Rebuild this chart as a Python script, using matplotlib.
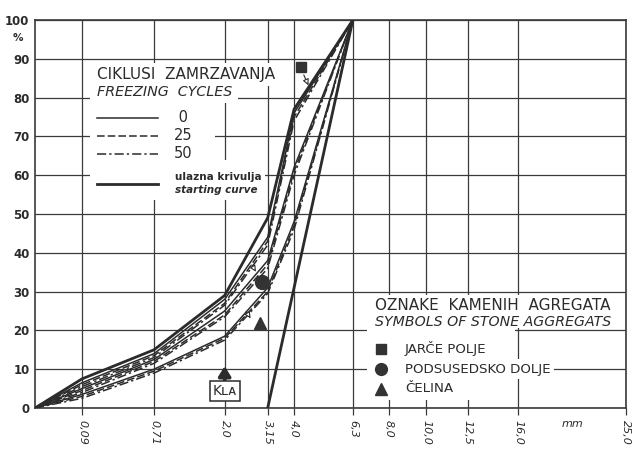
import numpy as np
import matplotlib
matplotlib.use("Agg")
import matplotlib.pyplot as plt
from matplotlib.patches import Rectangle
from matplotlib.lines import Line2D

# ---------------- data ----------------
sizes = [0, 0.09, 0.71, 2.0, 3.15, 4.0, 6.3]
tick_sizes = [0.09, 0.71, 2.0, 3.15, 4.0, 6.3, 8.0, 10.0, 12.5, 16.0, 25.0]
tick_labels = ["0,09", "0,71", "2,0", "3,15", "4,0", "6,3", "8,0", "10,0", "12,5", "16,0", "25,0"]
y_ticks = [0, 10, 20, 30, 40, 50, 60, 70, 80, 90, 100]

starting_curve = [0, 7.5, 15, 29, 49, 77, 100]
jarce_0 = [0, 6.5, 14, 28, 44, 76, 100]
jarce_25 = [0, 6, 13.5, 27, 43, 75, 100]
jarce_50 = [0, 5.5, 13, 26.5, 42, 74, 100]
podsused_0 = [0, 5, 12.5, 25, 38, 62, 100]
podsused_25 = [0, 4.5, 12, 24, 37, 61, 100]
podsused_50 = [0, 4, 11.5, 23.5, 36, 60, 100]
celina_0 = [0, 3.5, 10, 18.5, 31, 48, 100]
celina_25 = [0, 3, 9.5, 18, 30, 47, 100]
celina_50 = [0, 2.5, 9, 17.5, 29.5, 46, 100]

limit_sizes = [3.15, 6.3]
limit_values = [0, 100]

marker_square = (4.24, 88)
marker_circle = (2.97, 32.5)
marker_triangle = (2.91, 22)

# ---------------- figure ----------------
W, H = 634, 453
fig = plt.figure(figsize=(W / 100, H / 100), dpi=100)
L, R, T, B = 35, 626, 20, 408
ax = fig.add_axes([L / W, 1 - B / H, (R - L) / W, (B - T) / H])

P = 0.45
fwd = lambda x: np.sign(x) * np.abs(x) ** P
inv = lambda x: np.sign(x) * np.abs(x) ** (1 / P)
ax.set_xscale("function", functions=(fwd, inv))
ax.set_xlim(0, 25)
ax.set_ylim(0, 100)

ink = "#2b2b2b"
grid_c = "#3a3a3a"

ax.set_xticks(tick_sizes)
ax.set_xticklabels(tick_labels, rotation=-90, fontstyle="italic", fontsize=8, color=ink,
                   va="top", ha="center")
ax.set_yticks(y_ticks)
ax.set_yticklabels([str(v) for v in y_ticks], fontsize=8.5, fontweight="bold", color=ink)
ax.tick_params(axis="x", direction="out", length=5, width=0.9, color=grid_c, pad=4)
ax.tick_params(axis="y", length=0, pad=4)
ax.set_axisbelow(True)
ax.grid(True, color=grid_c, lw=0.9)
for s in ax.spines.values():
    s.set_color(grid_c)
    s.set_linewidth(1.2)

def fx(x):
    return x / W

def fy(y):
    return 1 - y / H

def white_rect(x0, y0, x1, y1):
    ax.add_patch(Rectangle((fx(x0), fy(y1)), fx(x1) - fx(x0), fy(y0) - fy(y1),
                           transform=fig.transFigure, fc="white", ec="none",
                           zorder=1, clip_on=False))

# white areas behind legends
white_rect(90, 63, 292, 86)
white_rect(90, 86, 238, 103)
white_rect(90, 103, 215, 160)
white_rect(90, 160, 265, 200)
white_rect(367, 295, 622, 328)
white_rect(367, 328, 515, 400)

# ---------------- curves ----------------
ls25 = (0, (5, 2))
ls50 = (0, (6, 2, 1.5, 2))
lw = 1.1
for data, ls in [(jarce_0, "-"), (jarce_25, ls25), (jarce_50, ls50),
                 (podsused_0, "-"), (podsused_25, ls25), (podsused_50, ls50),
                 (celina_0, "-"), (celina_25, ls25), (celina_50, ls50)]:
    ax.plot(sizes, data, color=ink, lw=lw, ls=ls, zorder=3)
ax.plot(sizes, starting_curve, color=ink, lw=2.0, zorder=3)
ax.plot(limit_sizes, limit_values, color=ink, lw=2.0, zorder=3)

# markers
ax.plot(*marker_square, marker="s", ms=7, color="#333333", zorder=4)
ax.plot(*marker_circle, marker="o", ms=10, color="#333333", zorder=4)
ax.plot(*marker_triangle, marker="^", ms=8, color="#333333", zorder=4)

# small hollow arrows pointing to curves
for (xt, yt), (xs, ys) in [((4.55, 82.5), (4.3, 86.5)),
                           ((2.85, 34.5), (2.65, 37.5)),
                           ((2.7, 22.5), (2.5, 25.5))]:
    ax.annotate("", xy=(xt, yt), xytext=(xs, ys),
                arrowprops=dict(arrowstyle="-|>", fc="white", ec=ink, lw=0.8,
                                mutation_scale=9), zorder=4)

# K_LA box with arrow
ax.annotate("", xy=(2.0, 10.8), xytext=(2.0, 6.3),
            arrowprops=dict(arrowstyle="-|>,head_width=0.26,head_length=0.42",
                            fc=ink, ec=ink, lw=2.6, mutation_scale=14,
                            shrinkA=0, shrinkB=0), zorder=4)
ax.text(2.0, 4.4, "Kʟᴀ", ha="center", va="center", fontsize=10, color=ink, zorder=5,
        bbox=dict(boxstyle="square,pad=0.2", fc="white", ec=ink, lw=1.1))

# ---------------- texts ----------------
def ftext(x, y, s, **kw):
    kw.setdefault("color", ink)
    ax.text(fx(x), fy(y), s, transform=fig.transFigure, zorder=5, **kw)

ftext(18, 38, "%", fontsize=7.5, fontweight="bold", ha="center", va="center")
ftext(572, 424, "mm", fontsize=8, fontstyle="italic", ha="center", va="center")

# legend 1
ftext(97, 75, "CIKLUSI  ZAMRZAVANJA", fontsize=11, ha="left", va="center")
ftext(97, 92, "FREEZING  CYCLES", fontsize=10.3, fontstyle="italic", ha="left", va="center")
for yy, ls, lab in [(118, "-", " 0"), (136, ls25, "25"), (154, ls50, "50")]:
    fig.add_artist(Line2D([fx(97), fx(158)], [fy(yy), fy(yy)], color=ink, lw=lw, ls=ls))
    ftext(174, yy, lab, fontsize=10.5, ha="left", va="center")
fig.add_artist(Line2D([fx(97), fx(158)], [fy(184), fy(184)], color=ink, lw=2.0))
ftext(175, 177, "ulazna krivulja", fontsize=7.5, fontweight="bold", ha="left", va="center")
ftext(175, 190, "starting curve", fontsize=7.5, fontweight="bold", fontstyle="italic",
      ha="left", va="center")

# legend 2
ftext(375, 305, "OZNAKE  KAMENIH  AGREGATA", fontsize=11, ha="left", va="center")
ftext(375, 322, "SYMBOLS OF STONE AGGREGATS", fontsize=10.2, fontstyle="italic",
      ha="left", va="center")
fig.add_artist(Line2D([fx(381)], [fy(349)], marker="s", ms=6.5, color="#333333", ls="none"))
fig.add_artist(Line2D([fx(381)], [fy(369)], marker="o", ms=8.5, color="#333333", ls="none"))
fig.add_artist(Line2D([fx(381)], [fy(389)], marker="^", ms=8, color="#333333", ls="none"))
ax.text(fx(405), fy(349), "JARČE POLJE", transform=fig.transFigure, fontsize=9.6,
        color=ink, ha="left", va="center", zorder=5)
ax.text(fx(405), fy(369), "PODSUSEDSKO DOLJE", transform=fig.transFigure, fontsize=9.6,
        color=ink, ha="left", va="center", zorder=5,
        bbox=dict(boxstyle="square,pad=0.25", fc="white", ec="none"))
ax.text(fx(405), fy(389), "ČELINA", transform=fig.transFigure, fontsize=9.6,
        color=ink, ha="left", va="center", zorder=5)

fig.savefig("out.png", dpi=100)
